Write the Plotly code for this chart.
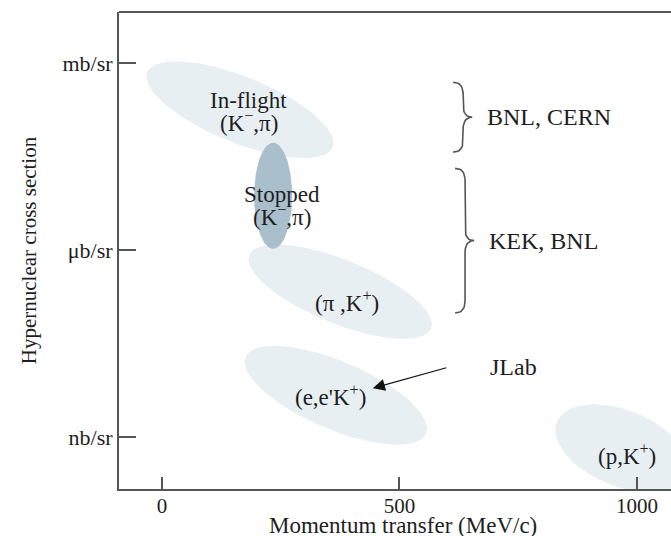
import numpy as np
import plotly.graph_objects as go

# Hypernuclear production reactions (label lines for each region)
reaction_lines = [
    ["In-flight", "(K<sup>−</sup>,π)"],
    ["Stopped", "(K<sup>−</sup>,π)"],
    ["(π ,K<sup>+</sup>)"],
    ["(e,e'K<sup>+</sup>)"],
    ["(p,K<sup>+</sup>)"],
]
# typical momentum transfer of each reaction (MeV/c)
momentum = [164, 234, 375, 366, 968]
# log10 of the hypernuclear cross section in b/sr (mb = -3, μb = -6, nb = -9)
log_xsec = [-3.75, -5.13, -6.67, -8.33, -9.18]

# Laboratories and the cross-section band they cover (log10 b/sr)
labs = ["BNL, CERN", "KEK, BNL"]
lab_momentum = [634, 638]
lab_top = [-3.31, -4.69]
lab_bottom = [-4.43, -7.01]

x_ticks = [0, 500, 1000]
y_ticks = [-3, -6, -9]
y_tick_text = ["mb/sr", "μb/sr", "nb/sr"]

# ---- page geometry ----
W, H = 671, 536
M_L, M_R, M_T, M_B = 119, 0, 12, 47
X_RANGE = [-90.5, 1071.6]
Y_RANGE = [-9.834, -2.182]
PX_X = (W - M_L - M_R) / (X_RANGE[1] - X_RANGE[0])
PX_Y = (H - M_T - M_B) / (Y_RANGE[1] - Y_RANGE[0])

FONT = "Liberation Serif, Times New Roman, serif"
TEXT = "#1e1e1e"
LINE = "#555555"
LIGHT = "#e8eff3"
DARK = "#a9bfcb"

# region shapes in pixels: semi-axis along the tilt, across it, tilt (deg)
semi_a = [100, 19, 98, 98, 70]
semi_b = [33, 53, 32, 34, 38]
tilt = [22, 0, 22, 23, 22]
fills = [LIGHT, DARK, LIGHT, LIGHT, LIGHT]
label_dx = [9, 9, 7, -5, 5]
label_dy = [1, 9, 10, 0, 6]
draw_order = [0, 2, 3, 4, 1]


def region_outline(cx, cy, a, b, deg, n=160):
    t = np.linspace(0, 2 * np.pi, n)
    th = np.radians(deg)
    u, v = a * np.cos(t), b * np.sin(t)
    dx = u * np.cos(th) - v * np.sin(th)
    dy = u * np.sin(th) + v * np.cos(th)
    return cx + dx / PX_X, 10 ** (cy - dy / PX_Y)


def brace(xs, top, bottom, hook=10, tip=9, r=12, n=12):
    """Right-pointing curly brace, built in pixel offsets around the spine."""
    yt = (Y_RANGE[1] - top) * PX_Y
    yb = (Y_RANGE[1] - bottom) * PX_Y
    ym = (yt + yb) / 2

    def quad(p0, c, p1):
        s = np.linspace(0, 1, n)[:, None]
        return (1 - s) ** 2 * np.array(p0) + 2 * (1 - s) * s * np.array(c) + s ** 2 * np.array(p1)

    pts = np.vstack([
        quad((-hook, yt), (0, yt), (0, yt + r)),
        quad((0, ym - r), (0, ym), (tip, ym)),
        quad((tip, ym), (0, ym), (0, ym + r)),
        quad((0, yb - r), (0, yb), (-hook, yb)),
    ])
    x = xs + pts[:, 0] / PX_X
    y = 10 ** (Y_RANGE[1] - pts[:, 1] / PX_Y)
    return x, y, ym


fig = go.Figure()

for i in draw_order:
    ex, ey = region_outline(momentum[i], log_xsec[i], semi_a[i], semi_b[i], tilt[i])
    fig.add_trace(go.Scatter(
        x=ex, y=ey, mode="lines", fill="toself", fillcolor=fills[i],
        line=dict(width=0, color=fills[i]), hoverinfo="skip", showlegend=False,
    ))

annotations = []
for i, lines in enumerate(reaction_lines):
    k = len(lines)
    for j, txt in enumerate(lines):
        off = (j - (k - 1) / 2) * 21
        annotations.append(dict(
            x=momentum[i], y=log_xsec[i], xref="x", yref="y", text=txt,
            showarrow=False, xshift=label_dx[i], yshift=-label_dy[i] - off,
            font=dict(family=FONT, size=23, color=TEXT),
        ))

for name, xs, top, bot in zip(labs, lab_momentum, lab_top, lab_bottom):
    bx, by, ym = brace(xs, top, bot)
    fig.add_trace(go.Scatter(
        x=bx, y=by, mode="lines", line=dict(color=LINE, width=1.6),
        hoverinfo="skip", showlegend=False,
    ))
    annotations.append(dict(
        x=xs, y=(top + bot) / 2, xref="x", yref="y", text=name,
        xanchor="left", showarrow=False, xshift=22,
        font=dict(family=FONT, size=24, color=TEXT),
    ))

# JLab and its pointer to the electroproduction region
annotations.append(dict(
    x=momentum[3], y=log_xsec[3], xref="x", yref="y", text="JLab",
    xanchor="left", showarrow=False, xshift=152, yshift=28,
    font=dict(family=FONT, size=24, color=TEXT),
))
annotations.append(dict(
    x=momentum[3], y=log_xsec[3], xref="x", yref="y", text="",
    showarrow=True, arrowhead=2, arrowsize=2.2, arrowwidth=1.1,
    arrowcolor="#111111", axref="pixel", ayref="pixel", ax=75, ay=-21,
    xshift=37, yshift=7, standoff=0,
))

# x-axis title, placed below the tick labels
annotations.append(dict(
    x=0.514, y=0, xref="paper", yref="paper", yshift=-36,
    text="Momentum transfer (MeV/c)", showarrow=False, yanchor="middle",
    font=dict(family=FONT, size=23, color=TEXT),
))

fig.update_layout(
    width=W, height=H,
    margin=dict(l=M_L, r=M_R, t=M_T, b=M_B),
    paper_bgcolor="white", plot_bgcolor="white",
    showlegend=False,
    annotations=annotations,
    shapes=[dict(type="line", xref="paper", yref="paper", x0=0, x1=1, y0=1, y1=1,
                 line=dict(color=LINE, width=2))],
    xaxis=dict(
        range=X_RANGE, tickvals=x_ticks, ticks="inside", ticklen=12, tickwidth=1.5,
        tickcolor=LINE, showline=True, linewidth=2, linecolor=LINE,
        showgrid=False, zeroline=False, automargin=False, ticklabelstandoff=-3,
        tickfont=dict(family=FONT, size=21, color=TEXT),
    ),
    yaxis=dict(
        type="log", range=Y_RANGE, tickvals=[10.0 ** v for v in y_ticks],
        ticktext=y_tick_text, ticks="inside", ticklen=17, tickwidth=1.5,
        tickcolor=LINE, showline=True, linewidth=2, linecolor=LINE,
        showgrid=False, zeroline=False, automargin=False,
        tickfont=dict(family=FONT, size=22, color=TEXT),
        title=dict(text="Hypernuclear cross section", standoff=20,
                   font=dict(family=FONT, size=21, color=TEXT)),
    ),
)

fig.write_html("out.html", config={"displayModeBar": False})
